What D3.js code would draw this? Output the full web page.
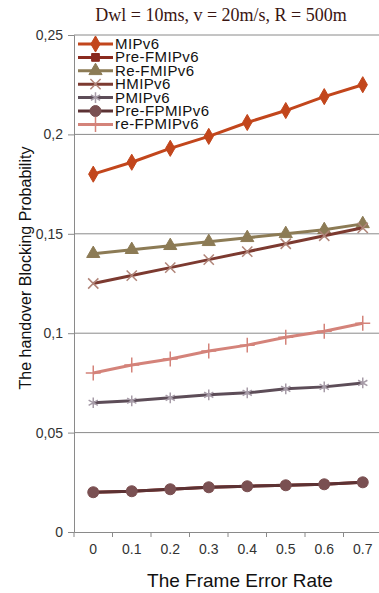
<!DOCTYPE html>
<html>
<head>
<meta charset="utf-8">
<script src="https://cdn.jsdelivr.net/npm/d3@7"></script>
<style>
  body { margin: 0; background: #fff; }
  svg { display: block; font-family: "Liberation Sans", Arial, sans-serif; }
</style>
</head>
<body>
<svg id="chart"></svg>
<script>
// categories and tick labels
var categories = ["0", "0.1", "0.2", "0.3", "0.4", "0.5", "0.6", "0.7"];
var yTicks = [0, 0.05, 0.1, 0.15, 0.2, 0.25];
var yTickLabels = ["0", "0,05", "0,1", "0,15", "0,2", "0,25"];

// series values
var seriesNames = ["MIPv6", "Pre-FMIPv6", "Re-FMIPv6", "HMIPv6", "PMIPv6", "Pre-FPMIPv6", "re-FPMIPv6"];
var mipv6 = [0.180, 0.186, 0.193, 0.199, 0.206, 0.212, 0.219, 0.225];
var preFmipv6 = [0.020, 0.0205, 0.0215, 0.0225, 0.023, 0.0235, 0.024, 0.025];
var reFmipv6 = [0.140, 0.142, 0.144, 0.146, 0.148, 0.150, 0.152, 0.155];
var hmipv6 = [0.125, 0.129, 0.133, 0.137, 0.141, 0.145, 0.149, 0.153];
var pmipv6 = [0.065, 0.066, 0.0675, 0.069, 0.070, 0.072, 0.073, 0.075];
var preFpmipv6 = [0.020, 0.0205, 0.0215, 0.0225, 0.023, 0.0235, 0.024, 0.025];
var reFpmipv6 = [0.080, 0.084, 0.087, 0.091, 0.094, 0.098, 0.101, 0.105];
var seriesValues = [mipv6, preFmipv6, reFmipv6, hmipv6, pmipv6, preFpmipv6, reFpmipv6];

// styles per series
var lineColors = ["#c2461c", "#8a2a1f", "#8c7b55", "#7c3a30", "#5d4d58", "#5c3234", "#d4837a"];
var markerColors = ["#c2461c", "#8a2a1f", "#8c7b55", "#b08478", "#a79ca8", "#7a5052", "#d4837a"];
var markerTypes = [d3.symbolDiamond, d3.symbolSquare, d3.symbolTriangle, d3.symbolTimes, d3.symbolAsterisk, d3.symbolCircle, d3.symbolPlus];
var markerFilled = [true, true, true, false, false, true, false];
var markerSizes = [75, 60, 75, 70, 80, 95, 75];

var wtot = 379, htot = 593;
var margin = { top: 35, right: -3, bottom: 61, left: 74 };

var svg = d3.select("#chart")
    .attr("width", wtot)
    .attr("height", htot);

var xScale = d3.scaleBand(categories, [margin.left, wtot - margin.right]).padding(0);
var yScale = d3.scaleLinear([0, 0.25], [htot - margin.bottom, margin.top]);

// gridlines
svg.append("g")
    .selectAll("line")
    .data(yTicks.slice(1))
    .join("line")
    .attr("x1", margin.left)
    .attr("x2", wtot)
    .attr("y1", d => yScale(d))
    .attr("y2", d => yScale(d))
    .attr("stroke", "#8a8a8a")
    .attr("stroke-width", 1);

// y axis
svg.append("g")
    .attr("transform", `translate(${margin.left},0)`)
    .call(d3.axisLeft(yScale).tickValues(yTicks).tickSize(6).tickPadding(5)
        .tickFormat((d, i) => yTickLabels[i]))
    .call(g => g.selectAll("path, line").attr("stroke", "#8a8a8a"))
    .call(g => g.selectAll("text").attr("fill", "#333").style("font-size", "14px")
        .style("font-family", "'Liberation Sans', Arial, sans-serif"));

// x axis
svg.append("g")
    .attr("transform", `translate(0,${yScale(0)})`)
    .call(d3.axisBottom(xScale).tickSize(0).tickPadding(12))
    .call(g => g.select(".domain").attr("stroke", "#8a8a8a"))
    .call(g => g.selectAll("text").attr("fill", "#333").style("font-size", "14px")
        .style("font-family", "'Liberation Sans', Arial, sans-serif"))
    .call(g => g.selectAll(".bt")
        .data(categories)
        .join("line")
        .attr("class", "bt")
        .attr("x1", d => xScale(d))
        .attr("x2", d => xScale(d))
        .attr("y1", 0)
        .attr("y2", 5)
        .attr("stroke", "#8a8a8a"));

// line generator
var line = d3.line()
    .x((d, i) => xScale(categories[i]) + xScale.bandwidth() / 2)
    .y(d => yScale(d));

function symbolPath(k) {
    return d3.symbol().type(markerTypes[k]).size(markerSizes[k])();
}

function drawMarker(sel, k) {
    sel.attr("d", symbolPath(k))
        .attr("fill", markerFilled[k] ? markerColors[k] : "none")
        .attr("stroke", markerColors[k])
        .attr("stroke-width", markerFilled[k] ? 1 : 1.5);
}

// series
seriesValues.forEach(function(vals, k) {
    var g = svg.append("g");
    g.append("path")
        .attr("d", line(vals))
        .attr("fill", "none")
        .attr("stroke", lineColors[k])
        .attr("stroke-width", 3);
    g.selectAll("path.m")
        .data(vals)
        .join("path")
        .attr("class", "m")
        .attr("transform", (d, i) => `translate(${xScale(categories[i]) + xScale.bandwidth() / 2},${yScale(d)})`)
        .call(drawMarker, k);
});

// legend
var legend = svg.append("g").attr("transform", "translate(78,44)");
seriesNames.forEach(function(name, k) {
    var row = legend.append("g").attr("transform", `translate(0,${k * 13.4})`);
    row.append("line")
        .attr("x1", 0).attr("x2", 35)
        .attr("stroke", lineColors[k])
        .attr("stroke-width", 3);
    row.append("path")
        .attr("transform", "translate(17.5,0)")
        .call(drawMarker, k);
    row.append("text")
        .attr("x", 37)
        .attr("y", 5)
        .attr("fill", "#111")
        .style("font-size", "15px")
        .style("letter-spacing", "0.4px")
        .text(name);
});

// title
svg.append("text")
    .attr("x", 221)
    .attr("y", 21)
    .attr("text-anchor", "middle")
    .attr("fill", "#3a1512")
    .style("font-family", "'Liberation Serif', 'Times New Roman', serif")
    .style("font-size", "18px")
    .text("Dwl = 10ms,  v = 20m/s,  R = 500m");

// axis titles
svg.append("text")
    .attr("transform", "translate(31,268) rotate(-90)")
    .attr("text-anchor", "middle")
    .attr("fill", "#111")
    .style("font-size", "16px")
    .text("The handover Blocking Probability");

svg.append("text")
    .attr("x", 240)
    .attr("y", 587)
    .attr("text-anchor", "middle")
    .attr("fill", "#111")
    .style("font-size", "19px")
    .text("The Frame Error Rate");
</script>
</body>
</html>
